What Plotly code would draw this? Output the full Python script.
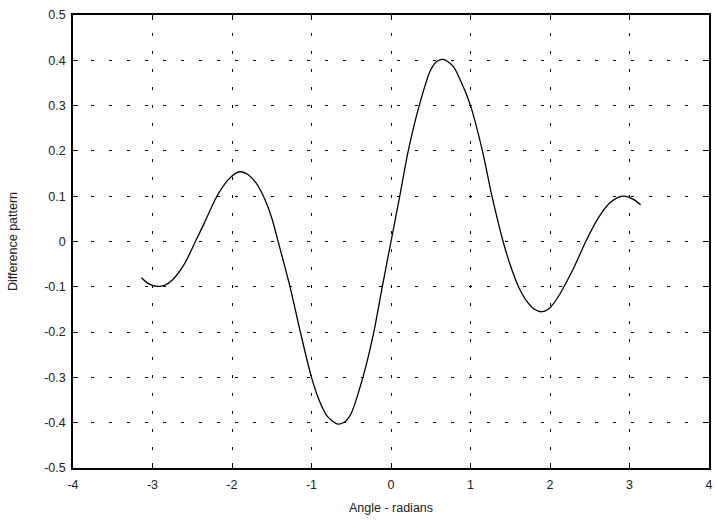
import plotly.graph_objects as go

angle = [-3.14, -3.05, -2.95, -2.85, -2.75, -2.60, -2.46, -2.35, -2.19,
         -2.05, -1.95, -1.89, -1.80, -1.70, -1.604, -1.50, -1.42, -1.27, -1.14,
         -1.00, -0.90, -0.80, -0.67, -0.58, -0.50, -0.354, -0.216, -0.11, 0.0,
         0.11, 0.217, 0.355, 0.50, 0.58, 0.66, 0.78, 0.88, 1.00, 1.15,
         1.27, 1.41, 1.50, 1.604, 1.70, 1.80, 1.90, 2.00, 2.10, 2.175,
         2.30, 2.45, 2.60, 2.75, 2.85, 2.94, 3.05, 3.14]
diff = [-0.080, -0.093, -0.099, -0.097, -0.085, -0.050, 0.000, 0.040, 0.100,
        0.136, 0.151, 0.154, 0.148, 0.130, 0.100, 0.052, 0.000, -0.100, -0.200,
        -0.300, -0.352, -0.386, -0.403, -0.398, -0.379, -0.300, -0.200, -0.100, 0.000,
        0.100, 0.200, 0.300, 0.379, 0.398, 0.402, 0.387, 0.353, 0.300, 0.200,
        0.100, 0.000, -0.052, -0.100, -0.130, -0.149, -0.155, -0.146, -0.123, -0.100,
        -0.058, 0.000, 0.050, 0.085, 0.097, 0.100, 0.093, 0.081]

x_ticks = [-4, -3, -2, -1, 0, 1, 2, 3, 4]
x_labels = ["-4", "-3", "-2", "-1", "0", "1", "2", "3", "4"]
y_ticks = [-0.5, -0.4, -0.3, -0.2, -0.1, 0, 0.1, 0.2, 0.3, 0.4, 0.5]
y_labels = ["-0.5", "-0.4", "-0.3", "-0.2", "-0.1", "0", "0.1", "0.2", "0.3", "0.4", "0.5"]

fig = go.Figure()
fig.add_trace(go.Scatter(x=angle, y=diff, mode="lines",
                         line=dict(color="black", width=1.3, shape="spline", smoothing=0.8),
                         showlegend=False, hoverinfo="skip"))

font = dict(family="Liberation Sans, Arial, sans-serif", size=12.5, color="#222")
axis_common = dict(showline=True, linecolor="black", linewidth=1.5, mirror="ticks",
                   ticks="inside", ticklen=5, tickcolor="black", tickwidth=1,
                   showgrid=True, gridcolor="black", gridwidth=1, griddash="3px,15px",
                   zeroline=False, tickfont=font)

fig.update_layout(
    width=718, height=520,
    margin=dict(l=73, r=5, t=15, b=52),
    paper_bgcolor="white", plot_bgcolor="white",
    xaxis=dict(range=[-4, 4], tickvals=x_ticks, ticktext=x_labels, ticklabelstandoff=4,
               title=dict(text="Angle - radians", font=font, standoff=12), **axis_common),
    yaxis=dict(range=[-0.5, 0.5], tickvals=y_ticks, ticktext=y_labels, ticklabelstandoff=3,
               title=dict(text="Difference pattern", font=font, standoff=24), **axis_common),
)

fig.write_html("out.html")
